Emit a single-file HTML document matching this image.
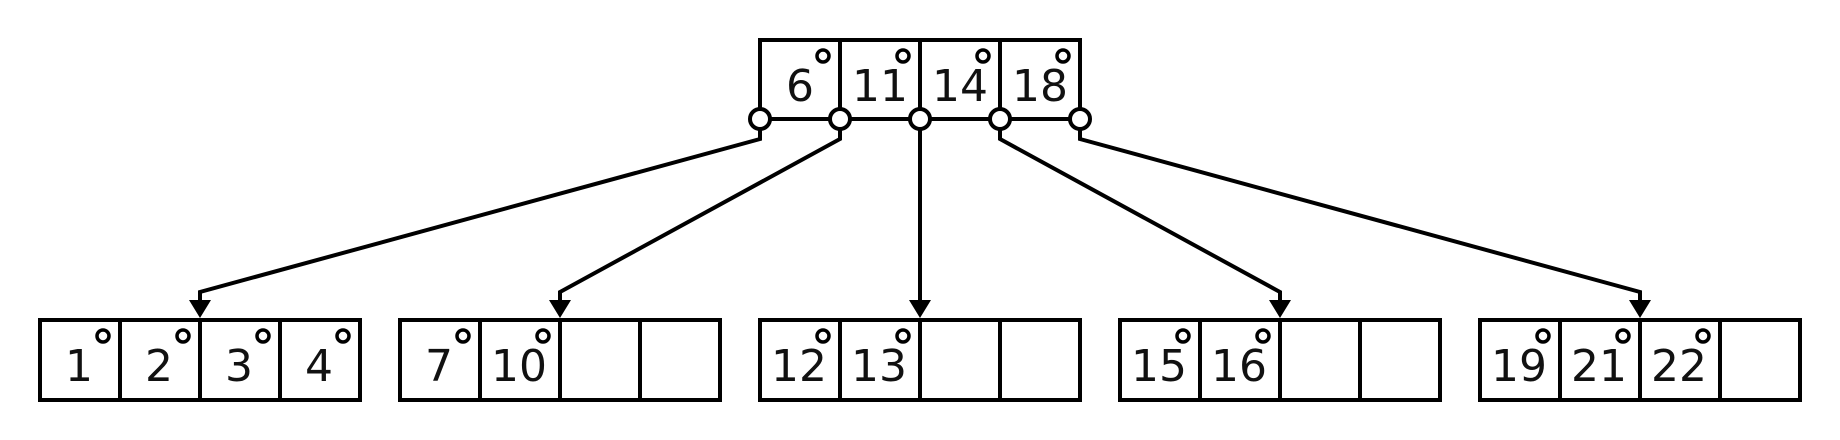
<!DOCTYPE html>
<html><head><meta charset="utf-8"><style>
html,body{margin:0;padding:0;background:#fff;}
svg{display:block}
text{font-family:"DejaVu Sans","Liberation Sans",sans-serif;font-size:44px;fill:#111;text-anchor:middle}
</style></head><body>
<svg width="1840" height="440" viewBox="0 0 1840 440" xmlns="http://www.w3.org/2000/svg">
<g fill="none" stroke="#000" stroke-width="4">
<path d="M760,119 V40 H1080 V119 M840,40 V119 M920,40 V119 M1000,40 V119 M760,119 H1080"/>
<polyline points="760,119 760,139 200,292 200,302"/>
<polyline points="840,119 840,139 560,292 560,302"/>
<polyline points="920,119 920,302"/>
<polyline points="1000,119 1000,139 1280,292 1280,302"/>
<polyline points="1080,119 1080,139 1640,292 1640,302"/>
<rect x="40" y="320" width="320" height="80"/>
<path d="M120,320V400M200,320V400M280,320V400"/>
<rect x="400" y="320" width="320" height="80"/>
<path d="M480,320V400M560,320V400M640,320V400"/>
<rect x="760" y="320" width="320" height="80"/>
<path d="M840,320V400M920,320V400M1000,320V400"/>
<rect x="1120" y="320" width="320" height="80"/>
<path d="M1200,320V400M1280,320V400M1360,320V400"/>
<rect x="1480" y="320" width="320" height="80"/>
<path d="M1560,320V400M1640,320V400M1720,320V400"/>
</g>
<g fill="#000">
<polygon points="189,300 211,300 200,318"/>
<polygon points="549,300 571,300 560,318"/>
<polygon points="909,300 931,300 920,318"/>
<polygon points="1269,300 1291,300 1280,318"/>
<polygon points="1629,300 1651,300 1640,318"/>
</g>
<g fill="#fff" stroke="#000" stroke-width="4">
<circle cx="760" cy="119" r="10"/><circle cx="840" cy="119" r="10"/><circle cx="920" cy="119" r="10"/><circle cx="1000" cy="119" r="10"/><circle cx="1080" cy="119" r="10"/>
</g>
<g fill="none" stroke="#000" stroke-width="3.5">
<circle cx="823" cy="56" r="6"/><circle cx="903" cy="56" r="6"/><circle cx="983" cy="56" r="6"/><circle cx="1063" cy="56" r="6"/>
<circle cx="103" cy="336" r="6"/><circle cx="183" cy="336" r="6"/><circle cx="263" cy="336" r="6"/><circle cx="343" cy="336" r="6"/>
<circle cx="463" cy="336" r="6"/><circle cx="543" cy="336" r="6"/>
<circle cx="823" cy="336" r="6"/><circle cx="903" cy="336" r="6"/>
<circle cx="1183" cy="336" r="6"/><circle cx="1263" cy="336" r="6"/>
<circle cx="1543" cy="336" r="6"/><circle cx="1623" cy="336" r="6"/><circle cx="1703" cy="336" r="6"/>
</g>
<g>
<text x="800" y="101">6</text><text x="880" y="101">11</text><text x="960" y="101">14</text><text x="1040" y="101">18</text>
<text x="79" y="381">1</text><text x="159" y="381">2</text><text x="239" y="381">3</text><text x="319" y="381">4</text>
<text x="439" y="381">7</text><text x="519" y="381">10</text>
<text x="799" y="381">12</text><text x="879" y="381">13</text>
<text x="1159" y="381">15</text><text x="1239" y="381">16</text>
<text x="1519" y="381">19</text><text x="1599" y="381">21</text><text x="1679" y="381">22</text>
</g>
</svg>
</body></html>
